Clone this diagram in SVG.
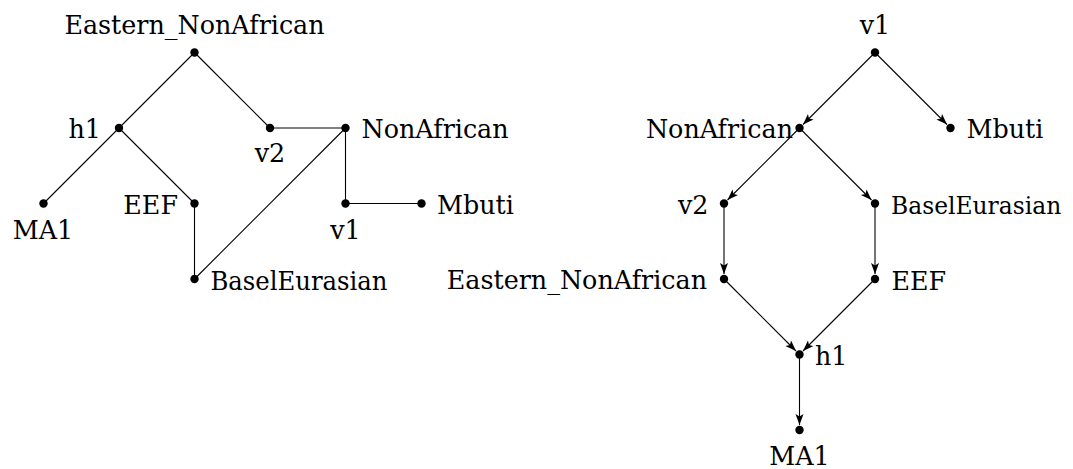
<svg xmlns="http://www.w3.org/2000/svg" width="1073" height="469" viewBox="0 0 1073 469">
<style>
.e{stroke:#000;stroke-width:1.1;fill:none}
.a{marker-end:url(#arr)}
.d{fill:#000}
text{font-family:"DejaVu Serif","Liberation Serif",serif;font-size:25.4px;fill:#000}
.m{text-anchor:middle}
.r{text-anchor:end}
.s{font-size:23.4px}
</style>
<defs>
<marker id="arr" markerUnits="userSpaceOnUse" markerWidth="12" markerHeight="9" refX="11" refY="4" orient="auto">
<path d="M0,0 L11,4 L0,8 L2.5,4 Z" fill="#000"/>
</marker>
</defs>
<rect width="1073" height="469" fill="#fff"/>
<g id="connectors">
<line class="e" x1="194.5" y1="52.5" x2="119" y2="128"/>
<line class="e" x1="194.5" y1="52.5" x2="270" y2="128"/>
<line class="e" x1="119" y1="128" x2="43.5" y2="203.5"/>
<line class="e" x1="119" y1="128" x2="194.5" y2="203.5"/>
<line class="e" x1="270" y1="128" x2="345.5" y2="128"/>
<line class="e" x1="345.5" y1="128" x2="345.5" y2="203.5"/>
<line class="e" x1="345.5" y1="128" x2="194.5" y2="279"/>
<line class="e" x1="194.5" y1="203.5" x2="194.5" y2="279"/>
<line class="e" x1="345.5" y1="203.5" x2="421.5" y2="203.5"/>
<line class="e a" x1="875" y1="52.5" x2="803" y2="124.5"/>
<line class="e a" x1="875" y1="52.5" x2="947" y2="124.5"/>
<line class="e a" x1="799.5" y1="128" x2="727.5" y2="200"/>
<line class="e a" x1="799.5" y1="128" x2="871.5" y2="200"/>
<line class="e a" x1="724" y1="203.5" x2="724" y2="274"/>
<line class="e a" x1="875" y1="203.5" x2="875" y2="274"/>
<line class="e a" x1="724" y1="279" x2="796" y2="351"/>
<line class="e a" x1="875" y1="279" x2="803" y2="351"/>
<line class="e a" x1="799.5" y1="354.5" x2="799.5" y2="425"/>
</g>
<g id="L_Eastern_NonAfrican"><circle class="d" cx="194.5" cy="52.5" r="4.2"/><text class="m" x="194.5" y="34">Eastern_NonAfrican</text></g>
<g id="L_h1"><circle class="d" cx="119" cy="128" r="4.2"/><text class="r" x="101" y="138">h1</text></g>
<g id="L_v2"><circle class="d" cx="270" cy="128" r="4.2"/><text class="m" x="270" y="162">v2</text></g>
<g id="L_NonAfrican"><circle class="d" cx="345.5" cy="128" r="4.2"/><text x="361.5" y="138">NonAfrican</text></g>
<g id="L_MA1"><circle class="d" cx="43.5" cy="203.5" r="4.2"/><text class="m" x="43" y="239">MA1</text></g>
<g id="L_EEF"><circle class="d" cx="194.5" cy="203.5" r="4.2"/><text class="r" x="178" y="214">EEF</text></g>
<g id="L_v1"><circle class="d" cx="345.5" cy="203.5" r="4.2"/><text class="m" x="345.5" y="239">v1</text></g>
<g id="L_Mbuti"><circle class="d" cx="421.5" cy="203.5" r="4.2"/><text x="437" y="214">Mbuti</text></g>
<g id="L_BaselEurasian"><circle class="d" cx="194.5" cy="279" r="4.2"/><text x="210.5" y="289.5" textLength="177" lengthAdjust="spacingAndGlyphs">BaselEurasian</text></g>
<g id="R_v1"><circle class="d" cx="875" cy="52.5" r="4.2"/><text class="m" x="875" y="34">v1</text></g>
<g id="R_NonAfrican"><circle class="d" cx="799.5" cy="128" r="4.2"/><text class="r" x="793" y="138">NonAfrican</text></g>
<g id="R_Mbuti"><circle class="d" cx="950.5" cy="128" r="4.2"/><text x="966.5" y="138">Mbuti</text></g>
<g id="R_v2"><circle class="d" cx="724" cy="203.5" r="4.2"/><text class="r" x="708.5" y="214">v2</text></g>
<g id="R_BaselEurasian"><circle class="d" cx="875" cy="203.5" r="4.2"/><text class="s" x="891" y="213.5">BaselEurasian</text></g>
<g id="R_Eastern_NonAfrican"><circle class="d" cx="724" cy="279" r="4.2"/><text class="r" x="707" y="289">Eastern_NonAfrican</text></g>
<g id="R_EEF"><circle class="d" cx="875" cy="279" r="4.2"/><text x="891.5" y="289.5">EEF</text></g>
<g id="R_h1"><circle class="d" cx="799.5" cy="354.5" r="4.2"/><text x="815" y="365">h1</text></g>
<g id="R_MA1"><circle class="d" cx="799.5" cy="430" r="4.2"/><text class="m" x="799.5" y="465">MA1</text></g>
</svg>
